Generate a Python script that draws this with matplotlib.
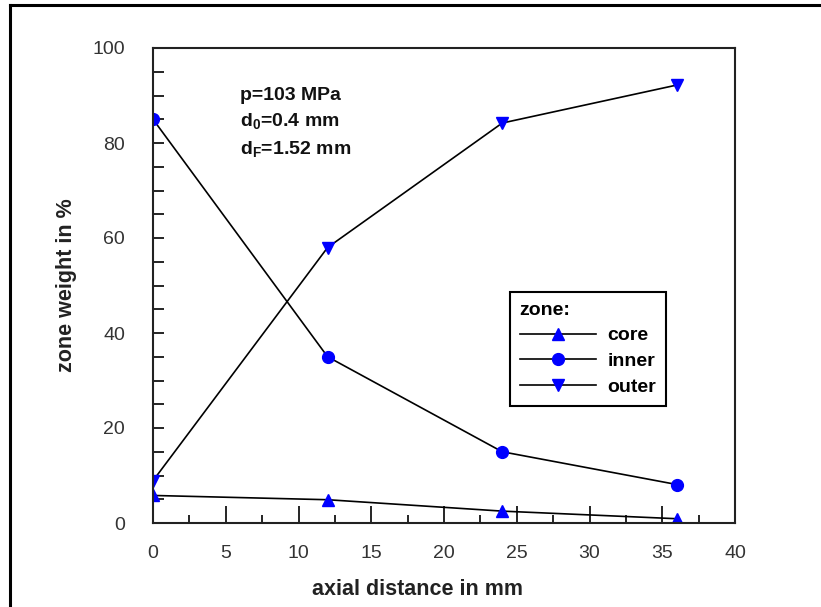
import matplotlib
matplotlib.use('Agg')
import matplotlib.pyplot as plt
from matplotlib.lines import Line2D
from matplotlib.ticker import MultipleLocator

plt.rcParams['font.family'] = ['Liberation Sans', 'DejaVu Sans']
plt.rcParams['mathtext.fontset'] = 'custom'
plt.rcParams['mathtext.rm'] = 'Liberation Sans:bold'
plt.rcParams['mathtext.bf'] = 'Liberation Sans:bold'
plt.rcParams['mathtext.default'] = 'bf'

# axial positions (mm) and zone weights (%)
distance = [0, 12, 24, 36]
core = [5.8, 4.9, 2.5, 0.9]
inner = [85, 35, 15, 8.1]
outer = [8.9, 58, 84.2, 92.2]

series = [('core', core, '^'), ('inner', inner, 'o'), ('outer', outer, 'v')]
blue = '#0000ff'

fig = plt.figure(figsize=(8.21, 6.07), dpi=100)
ax = fig.add_axes([153 / 821, 1 - 523 / 607, 582 / 821, 475 / 607])

for label, values, marker in series:
    ax.plot(distance, values, color='black', lw=1.2, marker=marker, ms=8.5,
            mfc=blue, mec=blue, label=label)

ax.set_xlim(0, 40)
ax.set_ylim(0, 100)
ax.xaxis.set_major_locator(MultipleLocator(5))
ax.xaxis.set_minor_locator(MultipleLocator(2.5))
ax.yaxis.set_major_locator(MultipleLocator(20))
ax.yaxis.set_minor_locator(MultipleLocator(5))
ax.tick_params(axis='x', which='major', direction='in', length=12, width=1.2, pad=16,
               labelsize=14, labelcolor='#333333')
ax.tick_params(axis='x', which='minor', direction='in', length=6, width=1.2)
ax.tick_params(axis='y', which='both', direction='in', length=8, width=1.2, pad=20,
               labelsize=14, labelcolor='#333333')
for spine in ax.spines.values():
    spine.set_linewidth(1.5)
    spine.set_color('#222222')

ax.set_xlabel('axial distance in mm', fontsize=15.5, fontweight='bold', color='#222222', va='center')
ax.xaxis.set_label_coords(0.454, -0.141)
ax.set_ylabel('zone weight in %', fontsize=15.5, fontweight='bold', color='#222222', va='center')
ax.yaxis.set_label_coords(-0.148, 0.5)

ax.text(6.0, 89.9, 'p=103 MPa', fontsize=14, fontweight='bold', va='center', color='#111111')
ax.text(6.0, 84.6, r'd$_0$=0.4 mm', fontsize=14, fontweight='bold', va='center', color='#111111')
ax.text(6.0, 78.8, r'd$_F$=1.52 mm', fontsize=14, fontweight='bold', va='center', color='#111111')

leg = ax.legend(title='zone:', loc='upper left', bbox_to_anchor=((510 - 153) / 582, (523 - 292) / 475),
                borderaxespad=0, fontsize=14, title_fontsize=14, handlelength=3.9,
                handletextpad=0.6, labelspacing=0.42, borderpad=0.5, fancybox=False,
                alignment='left', framealpha=1)
leg.get_frame().set_edgecolor('black')
leg.get_frame().set_linewidth(1.5)
leg.get_title().set_fontweight('bold')
for t in leg.get_texts():
    t.set_fontweight('bold')

# outer frame of the original figure (right and bottom edges fall outside)
fig.add_artist(Line2D([10 / 821, 10 / 821], [0, 1 - 5 / 607], color='black', lw=2.2))
fig.add_artist(Line2D([10 / 821, 1], [1 - 5 / 607, 1 - 5 / 607], color='black', lw=2.2))

fig.savefig('out.png', dpi=100)
